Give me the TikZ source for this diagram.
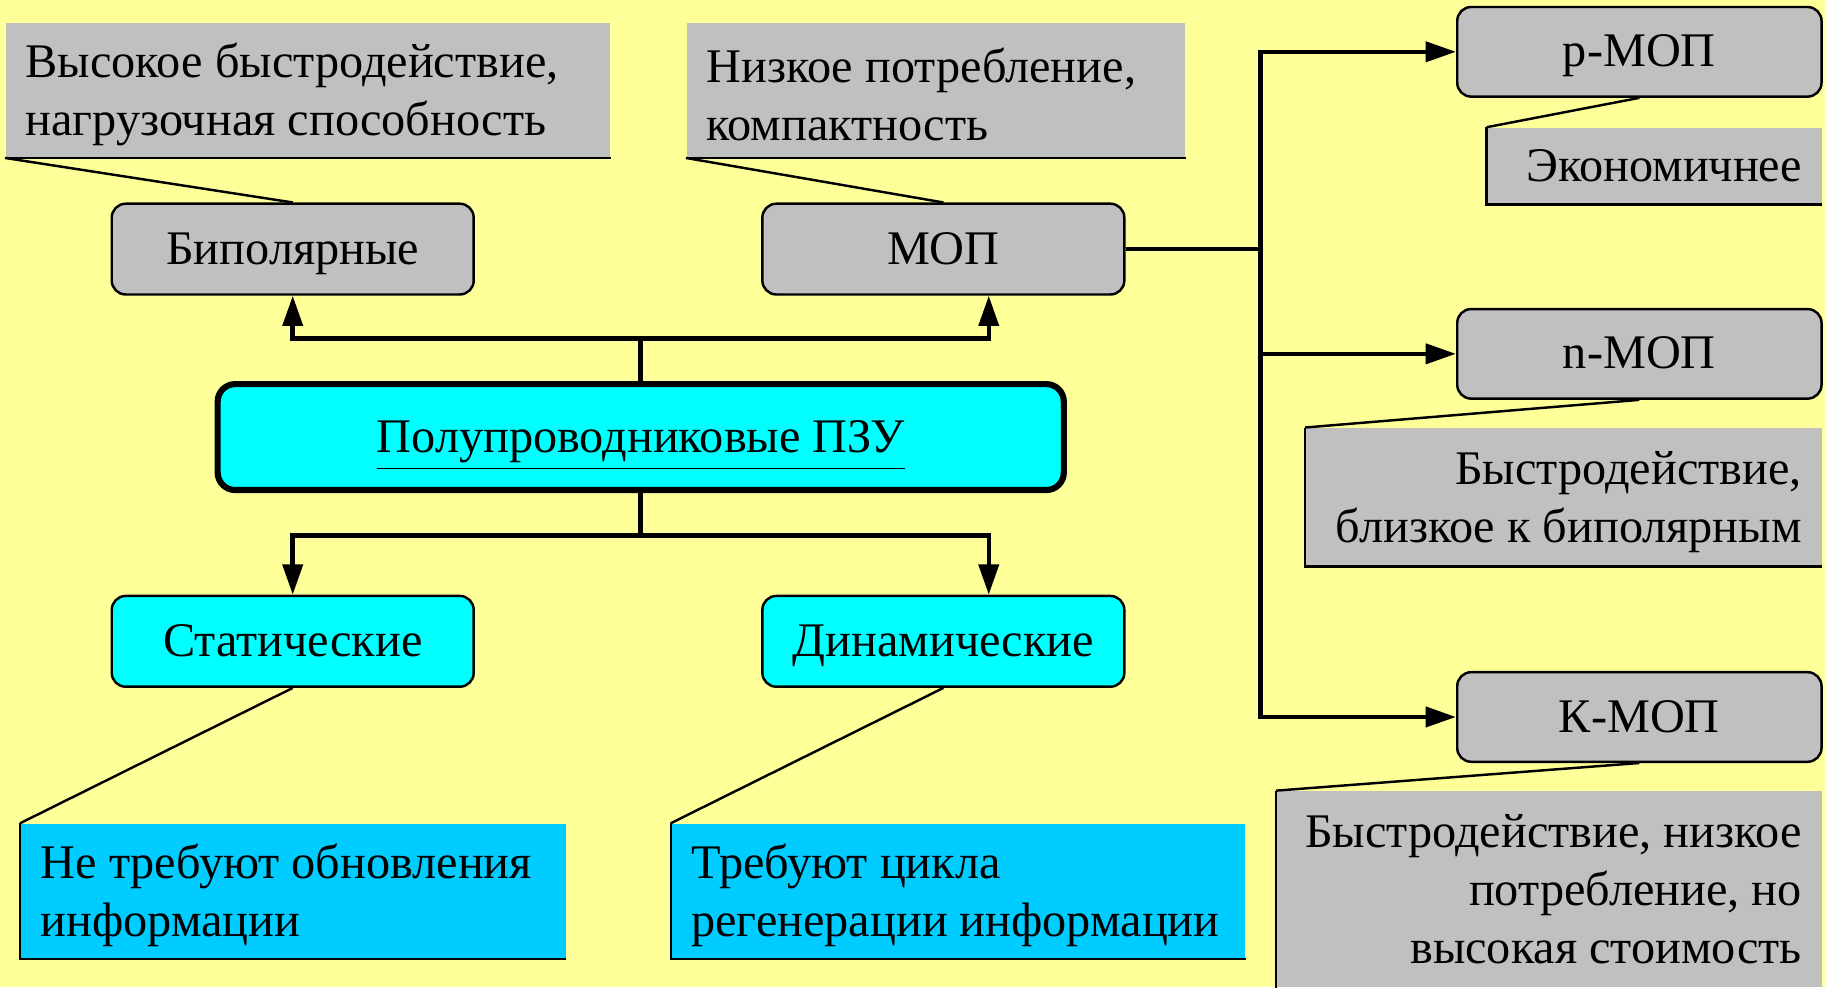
\documentclass[tikz,border=0pt]{standalone}
\usepackage{fontspec}
\setmainfont{Liberation Serif}
\usetikzlibrary{arrows.meta}
\definecolor{bgyellow}{HTML}{FFFF99}
\definecolor{boxgray}{HTML}{C0C0C0}
\definecolor{boxcyan}{HTML}{00FFFF}
\definecolor{noteblue}{HTML}{00CCFF}
\newcommand{\topstrut}{\rule{0pt}{0.88em}}
\tikzset{
  txt/.style={font=\fontsize{11.8pt}{14.2pt}\selectfont},
  unit/.style={txt,draw,line width=0.6pt,rounded corners=0.12cm,minimum width=3.11cm,minimum height=0.78cm,inner sep=0pt,text height=0.9em,text depth=0.16em},
  note/.style={txt,inner xsep=0.17cm,inner ysep=0pt},
  conn/.style={line width=1.1pt},
  arr/.style={conn,-{Triangle[length=0.26cm,width=0.17cm]}},
  pin/.style={line width=0.6pt},
}
\begin{document}
\begin{tikzpicture}
  \useasboundingbox (0,0) rectangle (15.68,-8.48);
  \fill[bgyellow] (0,0) rectangle (15.68,-8.48);
  % main node and its branches
  \node[unit,fill=boxcyan,line width=1.5pt,rounded corners=0.15cm,minimum width=7.27cm,minimum height=0.91cm] (main) at (5.505,-3.755) {\underline{Полупроводниковые ПЗУ}};
  \node[unit,fill=boxgray] (bip) at (2.515,-2.14) {Биполярные};
  \node[unit,fill=boxgray] (mop) at (8.105,-2.14) {МОП};
  \node[unit,fill=boxcyan] (stat) at (2.515,-5.51) {Статические};
  \node[unit,fill=boxcyan] (dyn) at (8.105,-5.51) {Динамические};
  \node[unit,fill=boxgray,minimum width=3.13cm,minimum height=0.77cm] (pmop) at (14.085,-0.445) {p-МОП};
  \node[unit,fill=boxgray,minimum width=3.13cm,minimum height=0.77cm] (nmop) at (14.085,-3.04) {n-МОП};
  \node[unit,fill=boxgray,minimum width=3.13cm,minimum height=0.77cm] (kmop) at (14.085,-6.16) {К-МОП};
  % notes
  \node[note,fill=boxgray,text width=4.85cm,align=flush left,minimum height=1.15cm] (hbip) at (2.645,-0.775) {\topstrut Высокое быстродействие,\\нагрузочная способность};
  \node[note,fill=boxgray,text width=3.94cm,align=flush left,minimum height=1.15cm] (hmop) at (8.04,-0.775) {\topstrut Низкое потребление,\\компактность};
  \node[note,fill=boxgray,text width=2.53cm,align=flush right,minimum height=0.65cm] (heco) at (14.215,-1.425) {Экономичнее};
  \node[note,fill=boxgray,text width=4.09cm,align=flush right,minimum height=1.18cm] (hnmop) at (13.435,-4.27) {\topstrut Быстродействие,\\близкое к биполярным};
  \node[note,fill=boxgray,text width=4.34cm,align=flush right,minimum height=1.68cm] (hkmop) at (13.31,-7.64) {Быстродействие, низкое\\потребление, но\\высокая стоимость};
  \node[note,fill=noteblue,text width=4.34cm,align=flush left,minimum height=1.15cm] (hstat) at (2.52,-7.655) {\topstrut Не требуют обновления\\информации};
  \node[note,fill=noteblue,text width=4.59cm,align=flush left,minimum height=1.15cm] (hdyn) at (8.235,-7.655) {\topstrut Требуют цикла\\регенерации информации};
  % note edges and pointers
  \draw[pin] (hbip.south west) -- (hbip.south east);
  \draw[pin] (hmop.south west) -- (hmop.south east);
  \draw[pin] (heco.north west) -- (heco.south west) -- (heco.south east);
  \draw[pin] (hnmop.north west) -- (hnmop.south west) -- (hnmop.south east);
  \draw[pin] (hkmop.north west) -- (hkmop.south west);
  \draw[pin] (hstat.north west) -- (hstat.south west) -- (hstat.south east);
  \draw[pin] (hdyn.north west) -- (hdyn.south west) -- (hdyn.south east);
  \draw[pin] (hbip.south west) -- (bip.north);
  \draw[pin] (hmop.south west) -- (mop.north);
  \draw[pin] (heco.north west) -- (pmop.south);
  \draw[pin] (hnmop.north west) -- (nmop.south);
  \draw[pin] (hkmop.north west) -- (kmop.south);
  \draw[pin] (hstat.north west) -- (stat.south);
  \draw[pin] (hdyn.north west) -- (dyn.south);
  % connectors
  \coordinate (up) at (5.505,-2.91);
  \coordinate (down) at (5.505,-4.60);
  \coordinate (trunk) at (10.83,-2.14);
  \draw[conn] (main.north) -- (up);
  \draw[arr] (up) -| (bip.south);
  \draw[arr] (up) -| ([xshift=0.39cm]mop.south);
  \draw[conn] (main.south) -- (down);
  \draw[arr] (down) -| (stat.north);
  \draw[arr] (down) -| ([xshift=0.39cm]dyn.north);
  \draw[conn] (mop.east) -- (trunk);
  \foreach \n in {pmop,nmop,kmop}
    \draw[arr] (trunk) |- (\n.west);
\end{tikzpicture}
\end{document}
